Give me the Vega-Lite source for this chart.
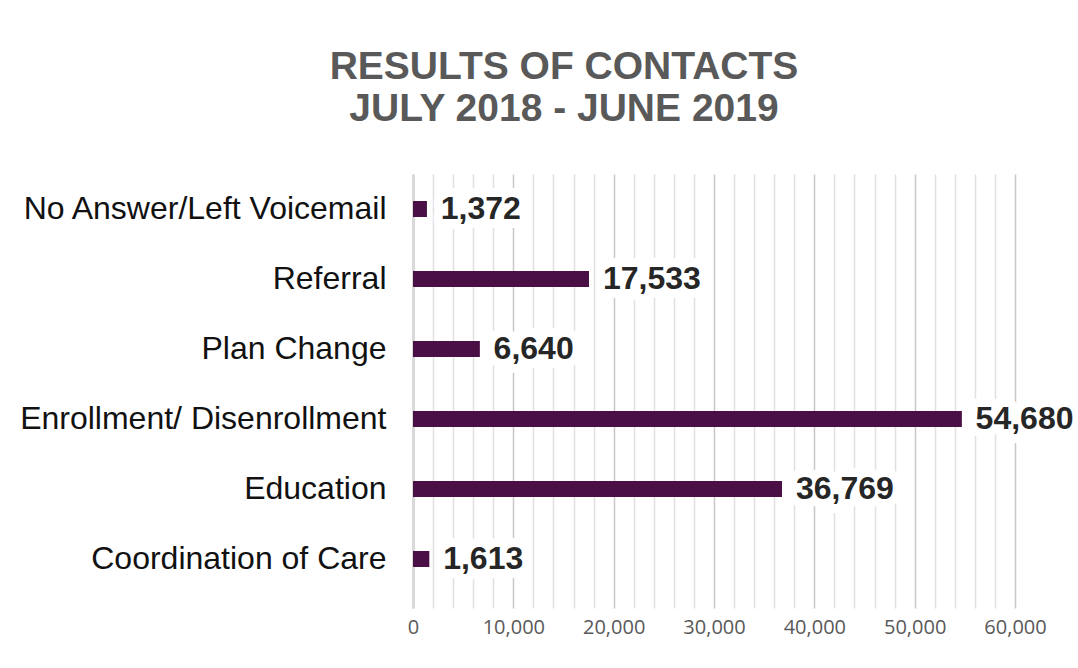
{
  "$schema": "https://vega.github.io/schema/vega-lite/v6.json",
  "autosize": "none",
  "width": 602,
  "height": 434,
  "padding": {"left": 413, "top": 174, "right": 63, "bottom": 60},
  "background": "white",
  "data": {
    "values": [
      {"category": "No Answer/Left Voicemail ", "contacts": 1372},
      {"category": "Referral", "contacts": 17533},
      {"category": "Plan Change", "contacts": 6640},
      {"category": "Enrollment/ Disenrollment", "contacts": 54680},
      {"category": "Education", "contacts": 36769},
      {"category": "Coordination of Care", "contacts": 1613}
    ]
  },
  "title": {
    "text": ["RESULTS OF CONTACTS", "JULY 2018 - JUNE 2019"],
    "font": "Liberation Sans",
    "fontSize": 39,
    "fontWeight": "bold",
    "color": "#595959",
    "lineHeight": 42,
    "anchor": "middle",
    "frame": "group",
    "dx": -150,
    "offset": 45
  },
  "config": {"view": {"stroke": null}},
  "encoding": {
    "y": {
      "field": "category",
      "type": "nominal",
      "sort": null,
      "scale": {"paddingInner": 0, "paddingOuter": 0.1, "align": 0},
      "axis": {
        "title": null,
        "ticks": false,
        "labelFont": "Liberation Sans",
        "labelFontSize": 32,
        "labelColor": "#111111",
        "labelPadding": 27,
        "labelLimit": 420,
        "domainColor": "#d9d9d9",
        "domainWidth": 3
      }
    }
  },
  "resolve": {"axis": {"x": "independent"}},
  "layer": [
    {
      "mark": {"type": "bar", "color": "#4a1045", "size": 16},
      "encoding": {
        "x": {
          "field": "contacts",
          "type": "quantitative",
          "scale": {"domain": [0, 60000], "nice": false},
          "axis": {
            "title": null,
            "values": [0, 10000, 20000, 30000, 40000, 50000, 60000],
            "labelExpr": "format(datum.value, ',')",
            "grid": true,
            "gridColor": "#c8c8c8",
            "gridWidth": 1.5,
            "ticks": false,
            "domain": false,
            "labelFont": "Open Sans",
            "labelFontSize": 20,
            "labelColor": "#595959",
            "labelPadding": 9,
            "labelFlush": false
          }
        }
      }
    },
    {
      "mark": {"type": "text", "opacity": 0},
      "encoding": {
        "x": {
          "field": "contacts",
          "type": "quantitative",
          "axis": {
            "orient": "top",
            "title": null,
            "values": [2000, 4000, 6000, 8000, 12000, 14000, 16000, 18000, 22000, 24000, 26000, 28000, 32000, 34000, 36000, 38000, 42000, 44000, 46000, 48000, 52000, 54000, 56000, 58000],
            "grid": true,
            "gridColor": "#e0e0e0",
            "gridWidth": 1.5,
            "labels": false,
            "ticks": false,
            "domain": false
          }
        },
        "text": {"field": "contacts"}
      }
    },
    {
      "mark": {"type": "bar", "color": "#4a1045", "size": 16},
      "encoding": {
        "x": {"field": "contacts", "type": "quantitative", "axis": null}
      }
    },
    {
      "mark": {
        "type": "text",
        "align": "left",
        "baseline": "middle",
        "dx": 14,
        "font": "Liberation Sans",
        "fontSize": 32,
        "fontWeight": "bold",
        "fill": "white",
        "stroke": "white",
        "strokeWidth": 18,
        "strokeJoin": "round"
      },
      "encoding": {
        "x": {"field": "contacts", "type": "quantitative", "axis": null},
        "text": {"field": "contacts", "type": "quantitative", "format": ","}
      }
    },
    {
      "mark": {
        "type": "text",
        "align": "left",
        "baseline": "middle",
        "dx": 14,
        "font": "Liberation Sans",
        "fontSize": 32,
        "fontWeight": "bold",
        "color": "#262626"
      },
      "encoding": {
        "x": {"field": "contacts", "type": "quantitative", "axis": null},
        "text": {"field": "contacts", "type": "quantitative", "format": ","}
      }
    }
  ]
}
